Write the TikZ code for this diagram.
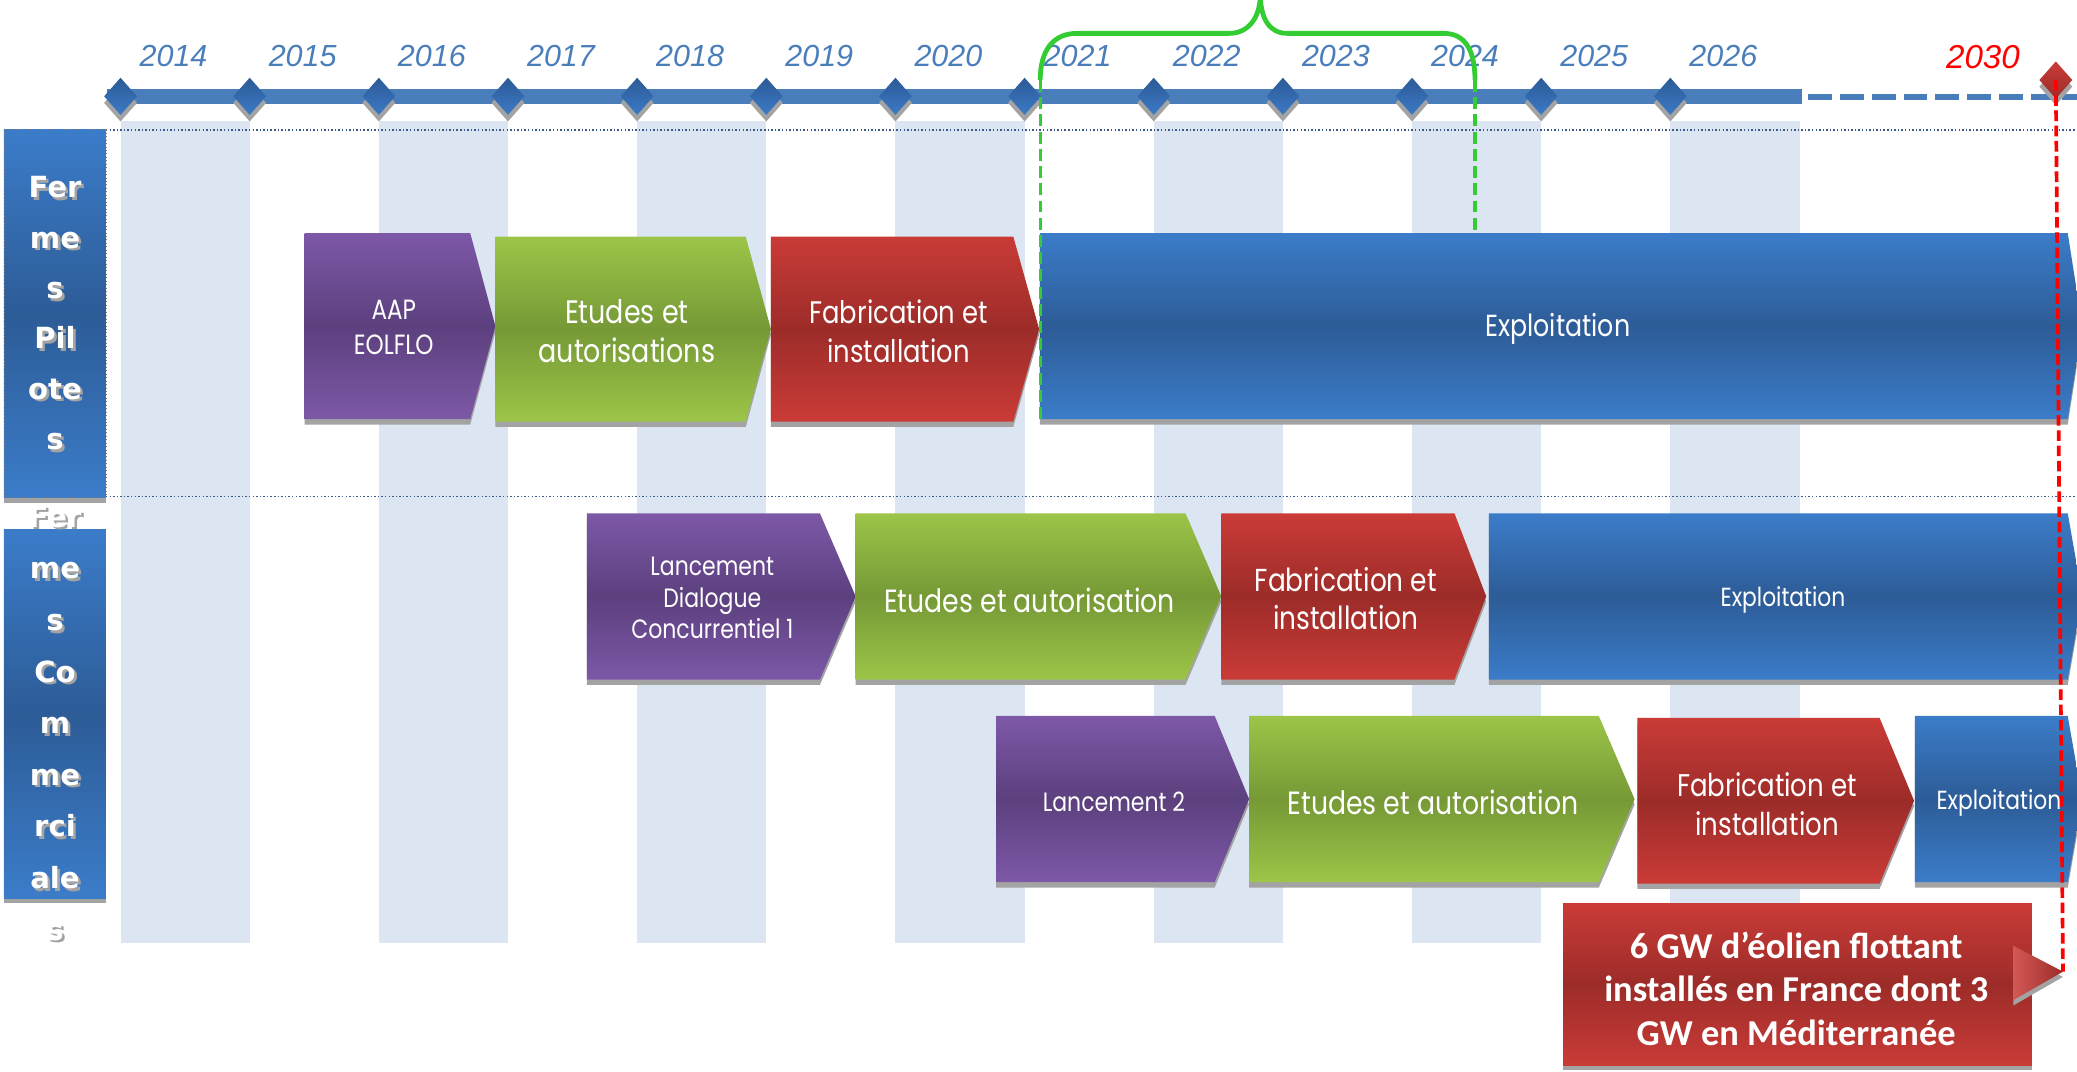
\documentclass[tikz,border=0pt]{standalone}
\usepackage{fontspec}
\setmainfont{Liberation Sans}
\newfontfamily\phasefont{Poppins}[FakeStretch=0.83]
\newfontfamily\rowfont{DejaVu Sans}
\newfontfamily\goalfont{Carlito}

\definecolor{yearblue}{HTML}{4A7EBB}
\definecolor{barblue}{HTML}{4A7EBB}
\definecolor{band}{HTML}{DCE6F2}
\definecolor{sepline}{HTML}{3B5A8A}
\definecolor{mkD}{HTML}{2C5A96}
\definecolor{mkL}{HTML}{3C7AC6}
\definecolor{purL}{HTML}{7D58A7}
\definecolor{purD}{HTML}{5C407E}
\definecolor{grnL}{HTML}{9CC548}
\definecolor{grnD}{HTML}{769936}
\definecolor{redL}{HTML}{CA3B37}
\definecolor{redD}{HTML}{9C2C29}
\definecolor{bluL}{HTML}{3B7CC9}
\definecolor{bluD}{HTML}{2D5C97}
\definecolor{brace}{HTML}{33CC33}
\definecolor{shadow}{HTML}{A3A3A3}

\begin{document}
\begin{tikzpicture}[
        % one unit is one pixel, y grows downwards
        x=1pt, y=-1pt,
        year/.style={font=\itshape\fontsize{23}{23}\selectfont, text=yearblue, inner sep=0pt},
        phase/.style={text=white, align=center, inner sep=0pt},
        rowlabel/.style={font=\rowfont\bfseries\fontsize{22}{38}\selectfont, align=center, inner sep=0pt},
        sep line/.style={sepline, line width=1.1pt, dash pattern=on 1.1pt off 1.6pt},
        brace line/.style={brace, line width=3.6pt},
        brace dash/.style={brace, line width=2.6pt, dash pattern=on 9pt off 4pt},
        goal dash/.style={red, line width=2.8pt, dash pattern=on 8pt off 3.5pt},
        goal/.style={font=\goalfont\bfseries\fontsize{27.5}{32.7}\selectfont, text=white, align=center, inner sep=0pt}
     ]
\clip (0,0) rectangle (1568,809);

% light bands behind every other year
\foreach \i in {0,2,...,12}
    \fill[band] ({91+97.5*\i},91) rectangle ({188.5+97.5*\i},712);

% row separators
\draw[sep line] (80,98) -- (1568,98);
\draw[sep line] (80,375) -- (1568,375);

% time axis
\fill[barblue] (81,67) rectangle (1360,78.8);
\draw[barblue, line width=4.5pt, dash pattern=on 18pt off 6pt] (1365,72.9) -- (1575,72.9);
\foreach \i in {0,...,12}{
    \pgfmathsetmacro{\xm}{91+97.5*\i}
    \fill[shadow] (\xm,63.7) -- ++(12.4,14) -- ++(-12.4,14) -- ++(-12.4,-14) -- cycle;
    \path[top color=mkD, bottom color=mkL] (\xm,58.7) -- ++(12.4,14) -- ++(-12.4,14) -- ++(-12.4,-14) -- cycle;
}
\foreach \yr [count=\i from 0] in {2014,...,2026}
    \node[year] (y\yr) at ({131+97.5*\i},42.2) {\yr};

% 2030 milestone
\fill[shadow] (1552,51.4) -- ++(12.4,14) -- ++(-12.4,14) -- ++(-12.4,-14) -- cycle;
\path[top color=redL, bottom color=redD] (1552,46.4) -- ++(12.4,14) -- ++(-12.4,14) -- ++(-12.4,-14) -- cycle;
\coordinate (m2030) at (1552,60.4);
\node[year, text=red, font=\itshape\fontsize{25}{25}\selectfont] (y2030) at (1497,43) {2030};

% row headers
\fill[shadow] (3,102) rectangle (80,379.5);
\path[top color=bluL, bottom color=bluL, middle color=bluD, draw=gray, line width=0.6pt, dotted] (3,98) rectangle (80,375.5);
\node[rowlabel, text=shadow] (pilotsh) at (43.5,238.5) {Fer\\me\\s\\Pil\\ote\\s};
\node[rowlabel, text=white] (pilot) at (41.5,236.5) {Fer\\me\\s\\Pil\\ote\\s};

\fill[shadow] (3,404) rectangle (80,682);
\path[top color=bluL, bottom color=bluL, middle color=bluD] (3,400) rectangle (80,678);
\node[rowlabel, text=shadow, font=\rowfont\bfseries\fontsize{22}{39}\selectfont] (commsh) at (43.5,548) {Fer\\me\\s\\Co\\m\\me\\rci\\ale\\s};
\node[rowlabel, text=white, font=\rowfont\bfseries\fontsize{22}{39}\selectfont] (comm) at (41.5,546) {Fer\\me\\s\\Co\\m\\me\\rci\\ale\\s};

% phase chevrons: colour / left / end of flat top / tip / top / bottom
\foreach \c/\l/\r/\t/\a/\b in {
        pur/230/355/374/176/316.5, grn/374/563/582/178.7/318.3,
        red/582/765/784.5/178.7/318.3, blu/785/1561/1572/176/316.5,
        pur/443/619/646/387.5/513, grn/646/895/922/387.5/513,
        red/922/1098/1122/387.5/513, blu/1124/1561/1572/387.5/513,
        pur/752/917/943/540.5/666, grn/943/1207/1234/540.5/666,
        red/1236/1419/1445/542/667, blu/1445.6/1561/1572/540.5/666}{
    \fill[shadow] (\l,\a+4) -- (\r,\a+4) -- (\t,{(\a+\b)/2+4}) -- (\r,\b+4) -- (\l,\b+4) -- cycle;
    \path[top color=\c L, bottom color=\c L, middle color=\c D]
        (\l,\a) -- (\r,\a) -- (\t,{(\a+\b)/2}) -- (\r,\b) -- (\l,\b) -- cycle;
}

% phase labels
\node[phase, font=\phasefont\fontsize{21}{26.7}\selectfont] (aap) at (297.25,247) {AAP\\EOLFLO};
\node[phase, font=\phasefont\fontsize{24.5}{30}\selectfont] (etud1) at (473.25,250) {Etudes et\\autorisations};
\node[phase, font=\phasefont\fontsize{23.5}{29}\selectfont] (fab1) at (678.4,250) {Fabrication et\\installation};
\node[phase, font=\phasefont\fontsize{23}{23}\selectfont] (expl1) at (1176,248) {Exploitation};

\node[phase, font=\phasefont\fontsize{20}{24}\selectfont] (dial1) at (537.75,451.5) {Lancement\\Dialogue\\Concurrentiel 1};
\node[phase, font=\phasefont\fontsize{24.3}{24.3}\selectfont] (etud2) at (777.25,453) {Etudes et autorisation};
\node[phase, font=\phasefont\fontsize{24}{29}\selectfont] (fab2) at (1016,452) {Fabrication et\\installation};
\node[phase, font=\phasefont\fontsize{19.8}{19.8}\selectfont] (expl2) at (1346,453) {Exploitation};

\node[phase, font=\phasefont\fontsize{20}{20}\selectfont] (lanc2) at (841,605) {Lancement 2};
\node[phase, font=\phasefont\fontsize{24.3}{24.3}\selectfont] (etud3) at (1081.75,605.5) {Etudes et autorisation};
\node[phase, font=\phasefont\fontsize{23.7}{29}\selectfont] (fab3) at (1334,607) {Fabrication et\\installation};
\node[phase, font=\phasefont\fontsize{19.8}{19.8}\selectfont] (expl3) at (1509,606) {Exploitation};

% brace over the pilot farm operation
\coordinate (bl) at (785.3,60.4);
\coordinate (br) at (1113.5,60.4);
\coordinate (bld) at (785.3,316.5);
\coordinate (brd) at (1113.5,176);
\draw[brace line] (bl) .. controls (785.3,38) and (795,25.2) .. (813,25.2) -- (928,25.2)
    .. controls (942,25.2) and (951,14) .. (951.4,-3)
    .. controls (952,14) and (958,25.2) .. (972,25.2) -- (1090,25.2)
    .. controls (1106,25.2) and (1113.5,38) .. (br);
\draw[brace dash] (bl) -- (bld);
\draw[brace dash] (br) -- (brd);

% 2030 target
\coordinate (tip) at (1557.4,733.5);
\draw[goal dash] (m2030) -- (tip);
\fill[shadow] (1180,686) rectangle (1534,808);
\path[top color=redL, bottom color=redL, middle color=redD] (1180,682) rectangle (1534,804);
\fill[shadow] (1520,718) -- (1557.4,737.5) -- (1520,759) -- cycle;
\path[left color=redL!85!white, right color=redD] (1520,714) -- (tip) -- (1520,755) -- cycle;
\node[goal] (target) at (1356,746.5) {6 GW d’éolien flottant\\installés en France dont 3\\GW en Méditerranée};
\end{tikzpicture}
\end{document}
